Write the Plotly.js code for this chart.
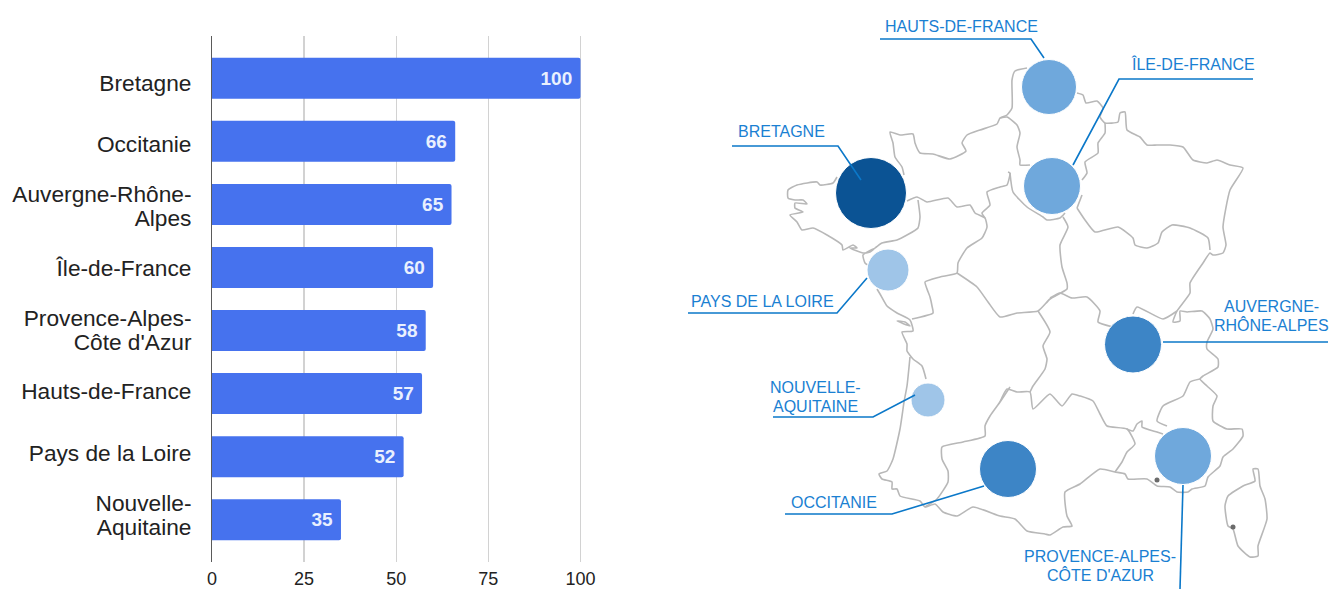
<!DOCTYPE html>
<html><head><meta charset="utf-8">
<script src="https://cdn.plot.ly/plotly-3.0.1.min.js"></script>
<style>html,body{margin:0;padding:0;background:#fff}#c{width:1329px;height:589px}</style>
</head><body><div id="c"></div>
<script>
const categories = ["Bretagne","Occitanie","Auvergne-Rhône-Alpes","Île-de-France","Provence-Alpes-Côte d'Azur","Hauts-de-France","Pays de la Loire","Nouvelle-Aquitaine"];
const values = [100,66,65,60,58,57,52,35];
const xTicks = [0,25,50,75,100];
// Category labels, one entry per printed line
const catLines = ["Bretagne","Occitanie","Auvergne-Rhône-","Alpes","Île-de-France","Provence-Alpes-","Côte d'Azur","Hauts-de-France","Pays de la Loire","Nouvelle-","Aquitaine"];
const catLineY = [83,144,194,218,268,318,342,391,453,503,527];

// Map, in picture pixels
const coast = [[1027,68],[1015,71],[1012,80],[1012,108],[1007,115],[1000,118],[997,124],[980,130],[967,135],[962,143],[966,151],[950,159],[933,154],[920,153],[915,143],[913,134],[900,135],[890,132],[893,143],[895,157],[902,167],[904,175]];
const brittany = [[837,177],[833,183],[820,185],[817,182],[797,185],[788,190],[788,198],[795,200],[803,200],[807,204],[795,203],[795,208],[803,212],[790,215],[797,222],[802,230],[813,228],[827,235],[842,245],[843,250],[853,245],[857,248],[850,248],[863,253],[870,252],[875,248],[863,255],[865,263],[868,265]];
const atlantic = [[877,289],[880,294],[887,306],[897,313],[910,320],[913,331],[902,332],[907,344],[907,351],[913,359],[922,366],[926,379]];
const oleron = [[897,321],[910,326],[905,322],[897,321]];
const landes = [[910,357],[907,386],[904,402],[903,409],[900,429],[893,459],[887,471],[879,474],[882,479],[892,482],[892,489],[897,489],[900,496],[920,501],[925,507],[935,504],[943,512],[957,516],[973,507],[1000,516],[1015,519],[1027,531],[1045,534],[1050,535],[1063,527],[1072,526],[1067,516],[1065,492],[1080,484],[1100,469],[1115,472],[1125,474],[1128,479],[1147,479],[1157,486],[1170,487],[1177,492],[1188,492],[1192,489],[1205,486],[1208,477],[1220,466],[1223,457],[1233,449],[1243,436],[1242,429],[1227,429],[1213,421],[1213,406],[1217,396],[1207,386],[1200,379],[1203,376],[1218,367],[1218,359],[1207,349],[1207,342],[1213,329],[1210,319],[1202,311],[1187,312],[1180,311],[1180,321],[1173,322],[1177,311],[1190,293],[1190,283],[1203,263],[1210,253],[1213,255],[1223,253],[1226,245],[1223,227],[1230,190],[1243,168],[1230,165],[1217,160],[1207,163],[1193,160],[1183,147],[1170,145],[1157,145],[1147,145],[1140,137],[1127,130],[1125,112],[1120,113],[1118,122],[1105,123],[1100,117],[1103,108],[1097,101],[1086,103],[1083,95],[1077,93]];
const corsica = [[1253,469],[1258,469],[1260,486],[1265,499],[1267,519],[1258,546],[1258,556],[1250,557],[1238,546],[1233,529],[1228,526],[1225,506],[1228,496],[1243,486],[1255,481],[1253,469]];
const bNormandy = [[907,201],[917,197],[927,202],[948,198],[957,207],[970,205],[975,213],[985,218],[987,227],[982,238],[967,248],[958,263],[957,273],[940,277],[925,282],[927,289],[930,297],[932,306],[933,313],[912,319]];
const bBrittany = [[918,200],[920,217],[918,228],[907,235],[897,240],[882,243],[875,248]];
const bSeine = [[985,218],[982,213],[990,205],[987,192],[1000,187],[1007,185],[1010,173],[1008,172]];
const bPicardy = [[1000,118],[1007,117],[1017,125],[1020,133],[1017,147],[1020,160],[1020,165],[1030,165]];
const bIdfSouth = [[1010,173],[1013,192],[1027,207],[1043,217],[1047,220],[1060,218],[1065,213]];
const bCentreEast = [[1063,217],[1068,227],[1060,245],[1062,267],[1067,283],[1067,289],[1050,299],[1038,311],[1017,313],[1000,317],[988,302],[977,287],[957,273]];
const bGrandEst = [[1077,208],[1085,220],[1095,232],[1118,227],[1133,238],[1135,245],[1147,248],[1158,243],[1162,232],[1172,225],[1190,228],[1208,238],[1210,250]];
const bArdennes = [[1105,123],[1105,133],[1098,143],[1098,153],[1085,162],[1087,173],[1082,180]];
const bMarne = [[1082,195],[1077,208]];
const bBurgundy = [[1050,298],[1060,293],[1072,298],[1087,297],[1100,311],[1098,322],[1113,327]];
const bJura = [[1133,314],[1137,307],[1163,319],[1177,311]];
const bLimousin = [[1038,311],[1050,332],[1043,346],[1047,359],[1045,369],[1033,386],[1030,392]];
const bCevennes = [[1000,402],[1007,389],[1017,392],[1030,392],[1033,409],[1050,394],[1062,406],[1072,394],[1080,396],[1093,401],[1100,414],[1107,426],[1127,429],[1135,444],[1127,452],[1122,462],[1115,472]];
const bDrome = [[1127,429],[1133,431],[1137,424],[1142,421],[1142,427],[1157,432],[1163,434]];
const bPaca = [[1167,426],[1157,421],[1163,406],[1183,396],[1190,382],[1200,379]];
const bGers = [[1010,387],[1000,402],[990,416],[985,426],[985,436],[963,442],[942,447],[942,459],[948,471],[948,482],[937,499],[925,507]];
const borders = [coast,brittany,atlantic,oleron,landes,corsica,bNormandy,bBrittany,bSeine,bPicardy,bIdfSouth,bCentreEast,bGrandEst,bArdennes,bMarne,bBurgundy,bJura,bLimousin,bCevennes,bDrome,bPaca,bGers];
const cityX = [1157,1233];
const cityY = [480,527];

const bubbleNames = ["BRETAGNE","HAUTS-DE-FRANCE","ÎLE-DE-FRANCE","PAYS DE LA LOIRE","AUVERGNE-RHÔNE-ALPES","NOUVELLE-AQUITAINE","OCCITANIE","PROVENCE-ALPES-CÔTE D'AZUR"];
const bubbleX = [871,1049,1052,888,1133,928,1008,1183];
const bubbleY = [193,87,186,270,344.5,400,469,456];
const bubbleD = [71,55,57,42,57,34,57,57];
const bubbleColors = ["#0b5394","#6fa8dc","#6fa8dc","#9fc5e8","#3d85c6","#9fc5e8","#3d85c6","#6fa8dc"];
// Map labels, one entry per printed line
const labelText = ["BRETAGNE","HAUTS-DE-FRANCE","ÎLE-DE-FRANCE","PAYS DE LA LOIRE","AUVERGNE-","RHÔNE-ALPES","NOUVELLE-","AQUITAINE","OCCITANIE","PROVENCE-ALPES-","CÔTE D'AZUR"];
const labelX = [781,961,1193,762,1271,1271,815,815,834,1100,1100];
const labelY = [131,26,64,301,306,325,387,406,502,556,575];
const leaders = [
  [[732,146],[838,146],[861,180]],
  [[880,39],[1031,39],[1044,58]],
  [[1253,79],[1119,79],[1073,165]],
  [[688,313],[837,313],[867,278]],
  [[1163,342],[1328,342]],
  [[773,417],[873,417],[915,395]],
  [[785,514],[892,514],[984,486]],
  [[1183,485],[1180,589]]
];

function flat(segs, i){ const o=[]; segs.forEach(s=>{s.forEach(p=>o.push(p[i])); o.push(null);}); return o; }

const FONT = 'Liberation Sans, Arial, sans-serif';
const W = 1329, H = 589;
const pxPerUnit = 3.685;
const xMax = 100.5;
const data = [
  {type:'bar', orientation:'h', y:categories, x:values, text:values.map(v=>v+'\u00a0'),
   textposition:'inside', insidetextanchor:'end', textangle:0, constraintext:'none',
   textfont:{family:FONT,size:19,color:'#e9f0fe',weight:'bold'}, marker:{color:'#4672ee'}, width:0.65,
   hoverinfo:'x+y', xaxis:'x', yaxis:'y', showlegend:false},
  {type:'scatter', mode:'markers', x:catLineY.map(()=>0), y:catLineY, xaxis:'x', yaxis:'y3', marker:{opacity:0}, hoverinfo:'skip', showlegend:false},
  {type:'scatter', mode:'lines', x:flat(borders,0), y:flat(borders,1), xaxis:'x2', yaxis:'y2',
   line:{color:'#b8b8b8',width:1.6,shape:'spline',smoothing:0.5}, hoverinfo:'skip', showlegend:false},
  {type:'scatter', mode:'markers', x:cityX, y:cityY, xaxis:'x2', yaxis:'y2',
   marker:{color:'#6b6b6b',size:5}, hoverinfo:'skip', showlegend:false},
  {type:'scatter', mode:'markers', x:bubbleX, y:bubbleY, xaxis:'x2', yaxis:'y2',
   text:bubbleNames, hoverinfo:'text',
   marker:{size:bubbleD,sizemode:'diameter',color:bubbleColors,opacity:1,line:{color:'#ffffff',width:1}}, showlegend:false},
  {type:'scatter', mode:'lines', x:flat(leaders,0), y:flat(leaders,1), xaxis:'x2', yaxis:'y2',
   line:{color:'#0b78c9',width:1.6}, hoverinfo:'skip', showlegend:false}
];
const layout = {
  width:W, height:H, margin:{l:0,r:0,t:0,b:0,pad:0}, paper_bgcolor:'#fff', plot_bgcolor:'rgba(0,0,0,0)',
  barcornerradius:2, showlegend:false,
  font:{family:FONT},
  xaxis:{domain:[212/W,(212+xMax*pxPerUnit)/W], range:[0,xMax], tickvals:xTicks, ticks:'', ticklabelstandoff:4,
    showgrid:true, gridcolor:'#d2d2d2', gridwidth:1.5, zeroline:false, showline:false,
    tickfont:{family:FONT,size:18,color:'#222222'}, fixedrange:true},
  yaxis:{domain:[1-562/H,1-36/H], range:[7.67,-0.67], type:'category', showticklabels:false, ticks:'',
    showgrid:false, zeroline:false, showline:true, linecolor:'#5a5a5a', linewidth:1.5, fixedrange:true},
  yaxis3:{overlaying:'y', anchor:'x', side:'left', range:[562,36], type:'linear', tickmode:'array', tickvals:catLineY, ticktext:catLines,
    ticks:'outside', ticklen:15, tickcolor:'rgba(0,0,0,0)', showgrid:false, zeroline:false, showline:false,
    tickfont:{family:FONT,size:22.7,color:'#222222'}, fixedrange:true},
  xaxis2:{domain:[0,1], range:[0,W], visible:false, fixedrange:true, anchor:'y2'},
  yaxis2:{domain:[0,1], range:[H,0], visible:false, fixedrange:true, anchor:'x2'},
  annotations: labelText.map((t,i)=>({xref:'x2',yref:'y2',x:labelX[i],y:labelY[i],text:t,showarrow:false,
    xanchor:'center',yanchor:'middle',align:'center',font:{family:FONT,size:16,color:'#1a80d2'}}))
};
Plotly.newPlot('c',data,layout,{displayModeBar:false,staticPlot:true});
</script></body></html>
